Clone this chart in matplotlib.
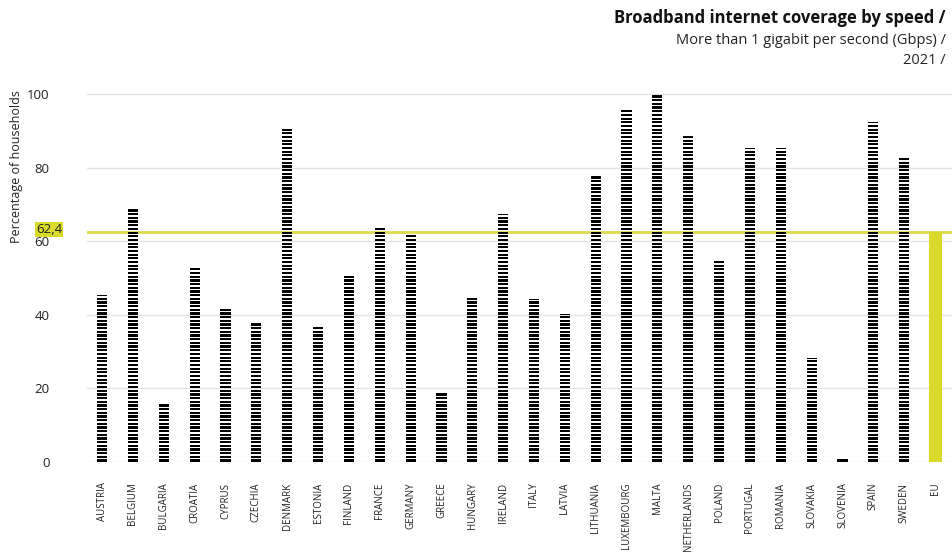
import numpy as np
import matplotlib
matplotlib.use("Agg")
import matplotlib.pyplot as plt
import matplotlib.transforms as mtransforms

# Share of households covered by >1 Gbps broadband, 2021
countries = ["AUSTRIA", "BELGIUM", "BULGARIA", "CROATIA", "CYPRUS", "CZECHIA",
             "DENMARK", "ESTONIA", "FINLAND", "FRANCE", "GERMANY", "GREECE",
             "HUNGARY", "IRELAND", "ITALY", "LATVIA", "LITHUANIA", "LUXEMBOURG",
             "MALTA", "NETHERLANDS", "POLAND", "PORTUGAL", "ROMANIA", "SLOVAKIA",
             "SLOVENIA", "SPAIN", "SWEDEN"]
coverage = [45.3, 68.7, 16.0, 52.6, 41.5, 38.0,
            90.5, 36.7, 51.0, 63.6, 61.9, 19.0,
            44.4, 67.4, 44.2, 40.2, 77.7, 95.6,
            99.8, 88.8, 54.7, 85.4, 85.2, 28.2,
            0.8, 92.5, 82.5]
eu_label = "EU"
eu_value = 62.4

yticks = [0, 20, 40, 60, 80, 100]

YELLOW = "#d9da2a"
LINE_YELLOW = "#dcdc4a"
GRID = "#e3e3e6"
TEXT = "#222222"

plt.rcParams["font.family"] = ["Open Sans", "DejaVu Sans"]

fig = plt.figure(figsize=(9.52, 5.52), dpi=100)
ax = fig.add_axes([87 / 952, 0.1636, 1 - 87 / 952, 0.6728])

# each bar is a column of short dashes, one dash per percentage point
stripe_h = 0.6
bar_w = 0.33
xs, bottoms, heights = [], [], []
for i, v in enumerate(coverage):
    k = 0
    while k < v:
        xs.append(i)
        bottoms.append(k)
        heights.append(min(stripe_h, v - k))
        k += 1
ax.bar(xs, heights, bottom=bottoms, width=bar_w, color="black",
       linewidth=0, zorder=3)

eu_x = len(countries)
ax.bar(eu_x, eu_value, width=0.42, color=YELLOW, linewidth=0, zorder=3)

# EU average reference line with its value tag on the axis
ax.axhline(eu_value, color=LINE_YELLOW, lw=2, zorder=2)
tag_tf = ax.get_yaxis_transform() + mtransforms.ScaledTranslation(
    0, 2 / 72, fig.dpi_scale_trans)
ax.text(-0.029, eu_value, "62,4", transform=tag_tf,
        ha="right", va="center", fontsize=9.5, color=TEXT, zorder=5,
        bbox=dict(boxstyle="square,pad=0.06", fc=YELLOW, ec="none"))

ax.set_xlim(-0.49, eu_x + 0.55)
ax.set_ylim(0, 101)
ax.set_yticks(yticks)
ax.set_yticklabels([str(t) for t in yticks], fontsize=9.5, color=TEXT)
ax.tick_params(axis="y", length=0, pad=27)
ax.set_xticks(list(range(eu_x + 1)))
ax.set_xticklabels(countries + [eu_label], rotation=90, fontsize=7,
                   color=TEXT, va="top")
ax.tick_params(axis="x", length=0, pad=15)
ax.grid(axis="y", color=GRID, lw=1, zorder=0)
ax.set_axisbelow(True)
for s in ax.spines.values():
    s.set_visible(False)

fig.text(17 / 952, 1 - 167 / 552, "Percentage of households", rotation=90,
         ha="center", va="center", rotation_mode="anchor",
         fontsize=9, color=TEXT)

fig.text(946 / 952, 1 - 18 / 552, "Broadband internet coverage by speed /",
         ha="right", va="center", fontsize=12, fontweight="bold", color="#111111")
fig.text(946 / 952, 1 - 41 / 552, "More than 1 gigabit per second (Gbps) /",
         ha="right", va="center", fontsize=10.5, color=TEXT)
fig.text(946 / 952, 1 - 60 / 552, "2021 /",
         ha="right", va="center", fontsize=10.5, color=TEXT)

fig.savefig("out.png", dpi=100, facecolor="white")
